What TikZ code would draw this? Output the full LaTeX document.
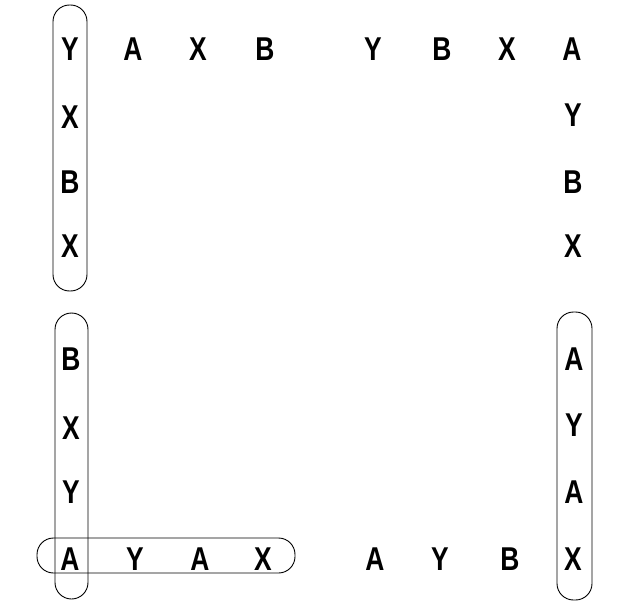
\documentclass[tikz,border=0pt]{standalone}
\usepackage{fontspec}
\setmainfont{Liberation Sans}
\newfontfamily\lettrfont[FakeStretch=0.8]{Liberation Sans}
\begin{document}
\begin{tikzpicture}[x=1pt,y=-1pt,
  lt/.style={inner sep=0pt,font=\lettrfont\fontsize{33}{33}\selectfont\bfseries},
  capsule/.style={line width=0.9pt,rounded corners=16.5pt}]
\useasboundingbox (0,0) rectangle (635,602);
% top-left
\node[lt] (tl1) at (70,49) {Y};
\node[lt] (tl2) at (70,117) {X};
\node[lt] (tl3) at (70,182) {B};
\node[lt] (tl4) at (70,246) {X};
\node[lt] (tr1) at (133,49) {A};
\node[lt] (tr2) at (198,49) {X};
\node[lt] (tr3) at (265,49) {B};
% top-right
\node[lt] (ur1) at (373,49) {Y};
\node[lt] (ur2) at (442,49) {B};
\node[lt] (ur3) at (507,49) {X};
\node[lt] (ur4) at (572,49) {A};
\node[lt] (uc2) at (573,115) {Y};
\node[lt] (uc3) at (573,182) {B};
\node[lt] (uc4) at (573,246) {X};
% bottom-left
\node[lt] (bl1) at (71,359) {B};
\node[lt] (bl2) at (71,428) {X};
\node[lt] (bl3) at (71,492) {Y};
\node[lt] (bl4) at (70,559) {A};
\node[lt] (br1) at (135,559) {Y};
\node[lt] (br2) at (200,559) {A};
\node[lt] (br3) at (263,559) {X};
% bottom-right
\node[lt] (lr1) at (375,559) {A};
\node[lt] (lr2) at (440,559) {Y};
\node[lt] (lr3) at (510,559) {B};
\node[lt] (lc1) at (574,359) {A};
\node[lt] (lc2) at (574,425) {Y};
\node[lt] (lc3) at (574,492) {A};
\node[lt] (lc4) at (573,559) {X};
% capsules
\draw[capsule] (53,5) rectangle (87,291);
\draw[capsule] (55,313) rectangle (88,599);
\draw[capsule] (37,538) rectangle (295,573);
\draw[capsule] (557,312) rectangle (592,600);
\end{tikzpicture}
\end{document}
